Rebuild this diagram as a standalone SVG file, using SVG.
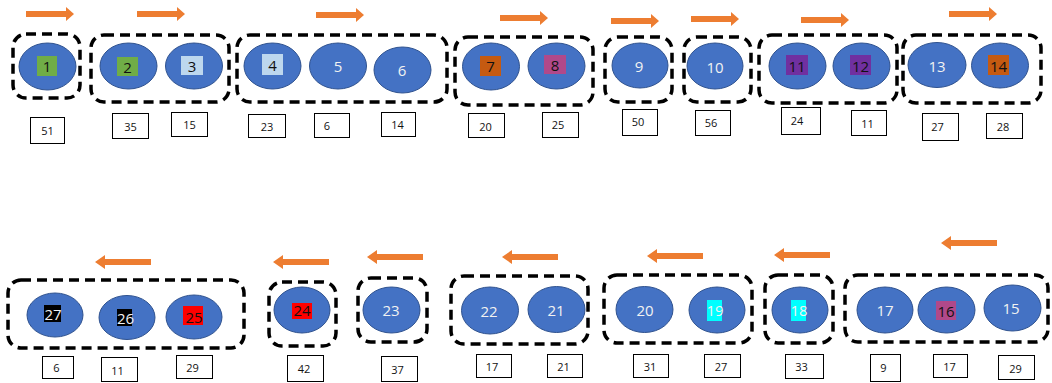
<svg xmlns="http://www.w3.org/2000/svg" width="1052" height="383" viewBox="0 0 1052 383">
  <style>
    .grp { fill: none; stroke: #000; stroke-width: 3.5; stroke-dasharray: 10 6; }
    .node { fill: #4472C4; stroke: #2F528F; stroke-width: 1; }
    .num { font-family: "Open Sans", "Liberation Sans", sans-serif; font-size: 15px; fill: #F2F2F2; text-anchor: middle; dominant-baseline: central; }
    .dark { fill: #111; }
    .val { fill: #fff; stroke: #000; stroke-width: 1; }
    .vt { font-family: "Open Sans", "Liberation Sans", sans-serif; font-size: 11px; fill: #111; text-anchor: middle; dominant-baseline: central; }
    .arrow { fill: #ED7D31; }
  </style>
  <defs>
    <path id="arR" d="M0,-3 H40 V-7 L48,0 L40,7 V3 H0 Z"/>
    <path id="arL" d="M56,-3 H10 V-7 L0,0 L10,7 V3 H56 Z"/>
  </defs>

  <!-- direction arrows -->
  <g id="arrows" class="arrow">
    <use href="#arR" x="26" y="14"/>
    <use href="#arR" x="137" y="14"/>
    <use href="#arR" x="316" y="15"/>
    <use href="#arR" x="500" y="18"/>
    <use href="#arR" x="611" y="21"/>
    <use href="#arR" x="691" y="19"/>
    <use href="#arR" x="801" y="20"/>
    <use href="#arR" x="949" y="14"/>
    <use href="#arL" x="95" y="262"/>
    <use href="#arL" x="273" y="262"/>
    <use href="#arL" x="367" y="257"/>
    <use href="#arL" x="502" y="257"/>
    <use href="#arL" x="647" y="256"/>
    <use href="#arL" x="774" y="255"/>
    <use href="#arL" x="941" y="243"/>
  </g>

  <!-- dashed groupings -->
  <g id="groups">
    <rect class="grp" x="13" y="34" width="67" height="64" rx="13"/>
    <rect class="grp" x="91" y="35" width="138" height="67" rx="13"/>
    <rect class="grp" x="237" y="35" width="210" height="67" rx="13"/>
    <rect class="grp" x="455" y="37" width="138" height="68" rx="13"/>
    <rect class="grp" x="605" y="37" width="67" height="65" rx="13"/>
    <rect class="grp" x="684" y="37" width="67" height="65" rx="13"/>
    <rect class="grp" x="759" y="35" width="138" height="68" rx="13"/>
    <rect class="grp" x="903" y="35" width="138" height="68" rx="13"/>
    <rect class="grp" x="8" y="280" width="236" height="68" rx="13"/>
    <rect class="grp" x="269" y="282" width="67" height="64" rx="13"/>
    <rect class="grp" x="358" y="278" width="69" height="64" rx="13"/>
    <rect class="grp" x="451" y="276" width="137" height="68" rx="13"/>
    <rect class="grp" x="604" y="275" width="148" height="68" rx="13"/>
    <rect class="grp" x="765" y="275" width="68" height="68" rx="13"/>
    <rect class="grp" x="845" y="275" width="203" height="67" rx="13"/>
  </g>

  <!-- numbered nodes -->
  <g id="n1"><ellipse class="node" cx="47.5" cy="66.5" rx="28.5" ry="23.5"/><rect x="37" y="56" width="20" height="20" fill="#70AD47"/><text class="num dark" x="47" y="66">1</text></g>
  <g id="n2"><ellipse class="node" cx="128.5" cy="66" rx="28.5" ry="23"/><rect x="117" y="57" width="21" height="19" fill="#70AD47"/><text class="num dark" x="127.5" y="66.5">2</text></g>
  <g id="n3"><ellipse class="node" cx="194" cy="66" rx="28.5" ry="23"/><rect x="181" y="56" width="22" height="19" fill="#BDD7EE"/><text class="num dark" x="192" y="65.5">3</text></g>
  <g id="n4"><ellipse class="node" cx="272.5" cy="66" rx="28.5" ry="23"/><rect x="262" y="54" width="21" height="21" fill="#BDD7EE"/><text class="num dark" x="272.5" y="65">4</text></g>
  <g id="n5"><ellipse class="node" cx="338" cy="66" rx="28.5" ry="23"/><text class="num" x="338" y="66">5</text></g>
  <g id="n6"><ellipse class="node" cx="402.5" cy="70" rx="28.5" ry="23"/><text class="num" x="402" y="70">6</text></g>
  <g id="n7"><ellipse class="node" cx="491" cy="66.5" rx="28.5" ry="23.5"/><rect x="480" y="56" width="21" height="20" fill="#C55A11"/><text class="num dark" x="490.5" y="66">7</text></g>
  <g id="n8"><ellipse class="node" cx="556.5" cy="66" rx="28.5" ry="23"/><rect x="544" y="55" width="22" height="19" fill="#B0498A"/><text class="num dark" x="555" y="65">8</text></g>
  <g id="n9"><ellipse class="node" cx="640" cy="65.5" rx="28" ry="22.5"/><text class="num" x="639" y="65.5">9</text></g>
  <g id="n10"><ellipse class="node" cx="715" cy="66" rx="28" ry="23"/><text class="num" x="715" y="66.5">10</text></g>
  <g id="n11"><ellipse class="node" cx="797.5" cy="66" rx="28.5" ry="23"/><rect x="786" y="55" width="22" height="20" fill="#7030A0"/><text class="num dark" x="797" y="65.5">11</text></g>
  <g id="n12"><ellipse class="node" cx="861.5" cy="66" rx="28.5" ry="23"/><rect x="850" y="55" width="21" height="20" fill="#7030A0"/><text class="num dark" x="860.5" y="65.5">12</text></g>
  <g id="n13"><ellipse class="node" cx="937" cy="65" rx="29" ry="22.5"/><text class="num" x="937" y="65.5">13</text></g>
  <g id="n14"><ellipse class="node" cx="1000" cy="65.5" rx="28.5" ry="22.5"/><rect x="988" y="55" width="21" height="20" fill="#C55A11"/><text class="num dark" x="998.5" y="65.5">14</text></g>

  <g id="n27"><ellipse class="node" cx="55" cy="315" rx="28" ry="22"/><rect x="44" y="305" width="17" height="17" fill="#000"/><text class="num" x="53" y="314" fill="#fff">27</text></g>
  <g id="n26"><ellipse class="node" cx="127" cy="317.5" rx="28" ry="22"/><rect x="117" y="309" width="15" height="17" fill="#000"/><text class="num" x="125.5" y="318">26</text></g>
  <g id="n25"><ellipse class="node" cx="194" cy="317" rx="28" ry="22"/><rect x="183" y="306" width="20" height="19" fill="#FF0000"/><text class="num dark" x="194" y="316.5">25</text></g>
  <g id="n24"><ellipse class="node" cx="302" cy="310" rx="28" ry="23"/><rect x="292" y="303" width="20" height="16" fill="#FF0000"/><text class="num dark" x="302" y="310">24</text></g>
  <g id="n23"><ellipse class="node" cx="391.5" cy="310" rx="28.5" ry="23"/><text class="num" x="391" y="310">23</text></g>
  <g id="n22"><ellipse class="node" cx="490" cy="310.5" rx="28.5" ry="23.5"/><text class="num" x="489" y="310.5">22</text></g>
  <g id="n21"><ellipse class="node" cx="556.5" cy="309.5" rx="28.5" ry="23"/><text class="num" x="556" y="309.5">21</text></g>
  <g id="n20"><ellipse class="node" cx="644.5" cy="309.5" rx="28.5" ry="23"/><text class="num" x="645" y="309.5">20</text></g>
  <g id="n19"><ellipse class="node" cx="717" cy="310" rx="28" ry="23"/><rect x="707" y="300" width="15" height="21" fill="#00FFFF"/><text class="num" x="715" y="310" fill="#fff">19</text></g>
  <g id="n18"><ellipse class="node" cx="800" cy="310" rx="28" ry="23"/><rect x="791" y="300" width="15" height="21" fill="#00FFFF"/><text class="num" x="799" y="310" fill="#fff">18</text></g>
  <g id="n17"><ellipse class="node" cx="885" cy="310" rx="28" ry="23"/><text class="num" x="885" y="309.5">17</text></g>
  <g id="n16"><ellipse class="node" cx="946.5" cy="310" rx="28.5" ry="23"/><rect x="936" y="301" width="20" height="19" fill="#B0498A"/><text class="num dark" x="946" y="310.5">16</text></g>
  <g id="n15"><ellipse class="node" cx="1012.5" cy="308" rx="28.5" ry="23"/><text class="num" x="1011" y="308">15</text></g>

  <!-- value boxes under each node -->
  <g id="values">
    <g><rect class="val" x="30.5" y="117.5" width="34" height="26"/><text class="vt" x="47.5" y="130.5">51</text></g>
    <g><rect class="val" x="112.5" y="113.5" width="36" height="25"/><text class="vt" x="130.5" y="126">35</text></g>
    <g><rect class="val" x="171.5" y="112.5" width="36" height="24"/><text class="vt" x="189.5" y="124.5">15</text></g>
    <g><rect class="val" x="248.5" y="114.5" width="37" height="23"/><text class="vt" x="267" y="126">23</text></g>
    <g><rect class="val" x="314.5" y="113.5" width="35" height="24"/><text class="vt" x="327" y="125.5">6</text></g>
    <g><rect class="val" x="381.5" y="112.5" width="34" height="24"/><text class="vt" x="397.5" y="124">14</text></g>
    <g><rect class="val" x="468.5" y="113.5" width="36" height="24"/><text class="vt" x="485.5" y="126">20</text></g>
    <g><rect class="val" x="542.5" y="112.5" width="36" height="25"/><text class="vt" x="558" y="124.5">25</text></g>
    <g><rect class="val" x="622.5" y="109.5" width="35" height="26"/><text class="vt" x="638" y="121.5">50</text></g>
    <g><rect class="val" x="695.5" y="110.5" width="35" height="25"/><text class="vt" x="711" y="122.5">56</text></g>
    <g><rect class="val" x="781.5" y="107.5" width="39" height="27"/><text class="vt" x="797" y="120">24</text></g>
    <g><rect class="val" x="851.5" y="110.5" width="35" height="25"/><text class="vt" x="867.5" y="123">11</text></g>
    <g><rect class="val" x="922.5" y="113.5" width="36" height="27"/><text class="vt" x="937.5" y="126">27</text></g>
    <g><rect class="val" x="986.5" y="113.5" width="36" height="25"/><text class="vt" x="1003" y="126.5">28</text></g>

    <g><rect class="val" x="42.5" y="356.5" width="31" height="22"/><text class="vt" x="56.5" y="367.5">6</text></g>
    <g><rect class="val" x="101.5" y="357.5" width="36" height="24"/><text class="vt" x="117.5" y="370">11</text></g>
    <g><rect class="val" x="176.5" y="355.5" width="36" height="23"/><text class="vt" x="192.5" y="367">29</text></g>
    <g><rect class="val" x="287.5" y="355.5" width="36" height="26"/><text class="vt" x="304" y="368.5">42</text></g>
    <g><rect class="val" x="381.5" y="356.5" width="36" height="25"/><text class="vt" x="397.5" y="369">37</text></g>
    <g><rect class="val" x="476.5" y="354.5" width="35" height="23"/><text class="vt" x="492" y="366">17</text></g>
    <g><rect class="val" x="547.5" y="354.5" width="35" height="23"/><text class="vt" x="563.5" y="366">21</text></g>
    <g><rect class="val" x="633.5" y="354.5" width="35" height="23"/><text class="vt" x="650" y="366">31</text></g>
    <g><rect class="val" x="704.5" y="354.5" width="36" height="23"/><text class="vt" x="721" y="366">27</text></g>
    <g><rect class="val" x="785.5" y="354.5" width="38" height="24"/><text class="vt" x="801.5" y="366.5">33</text></g>
    <g><rect class="val" x="870.5" y="354.5" width="30" height="27"/><text class="vt" x="883.5" y="367">9</text></g>
    <g><rect class="val" x="933.5" y="354.5" width="34" height="23"/><text class="vt" x="949.5" y="366">17</text></g>
    <g><rect class="val" x="998.5" y="355.5" width="36" height="24"/><text class="vt" x="1015.5" y="368">29</text></g>
  </g>
</svg>
